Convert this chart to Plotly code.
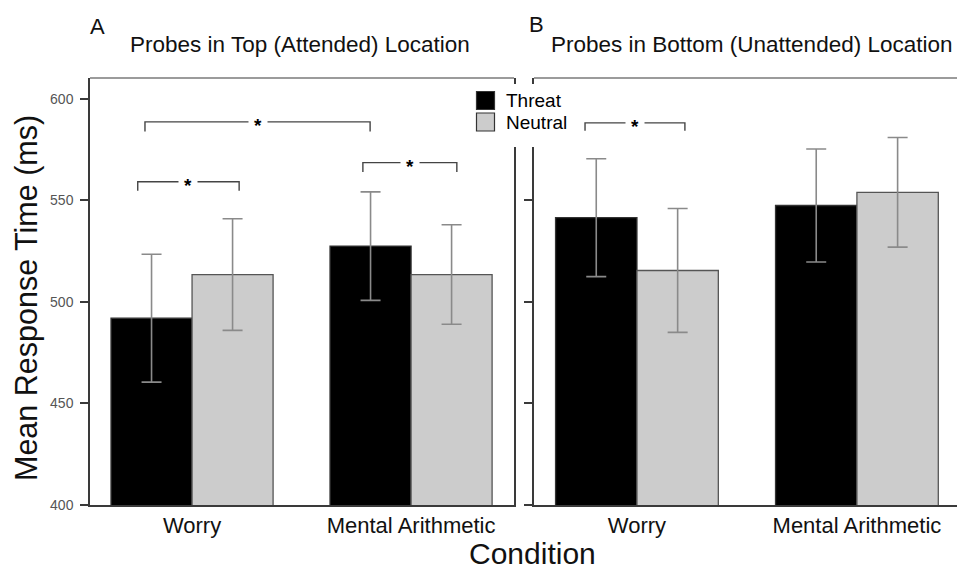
import plotly.graph_objects as go

# ---- data ----
categories = ["Worry", "Mental Arithmetic"]
cat_pos = [0, 1]
a_threat = [492.0, 527.5]
a_threat_err = [31.5, 26.7]
a_neutral = [513.5, 513.5]
a_neutral_err = [27.5, 24.5]
b_threat = [541.5, 547.5]
b_threat_err = [29.0, 27.8]
b_neutral = [515.5, 554.0]
b_neutral_err = [30.5, 27.0]
y_ticks = [400, 450, 500, 550, 600]
series_names = ["Threat", "Neutral"]

# significance brackets: (panel, x_left, x_right, y_line, y_drop)
brackets = [
    ("A", -0.215, 0.813, 588.7, 584.0),
    ("A", -0.248, 0.215, 559.2, 554.8),
    ("A", 0.780, 1.209, 568.6, 564.0),
    ("B", -0.236, 0.218, 588.2, 584.3),
]

# target picture size (layout positions are given in these pixels)
W, H = 957, 569
# the captured page area is 8px taller than the window; size the figure to it
FIG_H = H + 8


def px(x):
    return x / W


def py(y):
    return 1 - y / H


FONT = "Liberation Sans, Arial, sans-serif"
THREAT_COL = "#000000"
NEUTRAL_COL = "#cccccc"
ERR_COL = "#8a8a8a"
AX_COL = "#3a3a3a"

fig = go.Figure()


def add_pair(xa, ya, thr, thr_e, neu, neu_e):
    fig.add_trace(go.Bar(
        x=cat_pos, y=thr, name=series_names[0], xaxis=xa, yaxis=ya, showlegend=False,
        marker=dict(color=THREAT_COL, line=dict(color="#333333", width=1.3)),
        error_y=dict(type="data", array=thr_e, color=ERR_COL, thickness=1.6, width=10),
    ))
    fig.add_trace(go.Bar(
        x=cat_pos, y=neu, name=series_names[1], xaxis=xa, yaxis=ya, showlegend=False,
        marker=dict(color=NEUTRAL_COL, line=dict(color="#555555", width=1.3)),
        error_y=dict(type="data", array=neu_e, color=ERR_COL, thickness=1.6, width=10),
    ))


add_pair("x", "y", a_threat, a_threat_err, a_neutral, a_neutral_err)
add_pair("x2", "y2", b_threat, b_threat_err, b_neutral, b_neutral_err)

yrange = [400, 610.3]

xcommon = dict(
    tickvals=cat_pos, ticktext=categories, showgrid=False, zeroline=False,
    showline=True, linecolor=AX_COL, linewidth=1.5, ticks="",
    tickfont=dict(family=FONT, size=22, color="#111111"),
)
ycommon = dict(
    range=yrange, tickvals=y_ticks, showgrid=False, zeroline=False,
    showline=True, linecolor=AX_COL, linewidth=1.5, ticks="outside",
    ticklen=8, tickwidth=1.5, tickcolor=AX_COL, ticklabelstandoff=4,
    tickfont=dict(family=FONT, size=14, color="#555555"),
)

fig.update_layout(
    width=W, height=FIG_H,
    margin=dict(l=0, r=0, t=0, b=0),
    paper_bgcolor="white", plot_bgcolor="white",
    barmode="group", bargap=0.26, bargroupgap=0,
    xaxis=dict(domain=[px(90), px(514)], range=[-0.466, 1.47], anchor="y", **xcommon),
    yaxis=dict(domain=[py(505), py(78)], anchor="x", mirror=True, **ycommon),
    xaxis2=dict(domain=[px(534), 1.0], range=[-0.468, 1.455], anchor="y2", **xcommon),
    yaxis2=dict(domain=[py(505), py(78)], anchor="x2", showticklabels=False, **ycommon),
    showlegend=False,
    font=dict(family=FONT),
)

shapes = []
# top borders
for xr, yr in (("x domain", "y domain"), ("x2 domain", "y2 domain")):
    shapes.append(dict(type="line", xref=xr, yref=yr, x0=0, x1=1, y0=1, y1=1,
                       line=dict(color="#7a7a7a", width=1.5), layer="above"))

annotations = []
for panel, xl, xr_, yl, yd in brackets:
    xref, yref = ("x", "y") if panel == "A" else ("x2", "y2")
    shapes.append(dict(
        type="path", xref=xref, yref=yref,
        path=f"M {xl},{yd} L {xl},{yl} L {xr_},{yl} L {xr_},{yd}",
        line=dict(color="#444444", width=1.4), layer="above",
    ))
    annotations.append(dict(
        x=(xl + xr_) / 2, y=yl, xref=xref, yref=yref, text="<b>*</b>", showarrow=False,
        font=dict(family=FONT, size=19, color="#000000"), bgcolor="white",
        borderpad=5, yanchor="middle", xanchor="center", yshift=-4,
    ))

# legend (white box that interrupts the frame lines, swatches and labels)
shapes.append(dict(type="rect", xref="paper", yref="paper",
                   x0=px(471), x1=px(578), y0=py(147), y1=py(84),
                   fillcolor="white", line=dict(width=0), layer="above"))
legend_cols = [THREAT_COL, NEUTRAL_COL]
legend_rows = [(91.5, 109.5), (113, 131)]
for name, col, (t, b) in zip(series_names, legend_cols, legend_rows):
    shapes.append(dict(type="rect", xref="paper", yref="paper",
                       x0=px(476.5), x1=px(494.5), y0=py(b), y1=py(t),
                       fillcolor=col, line=dict(color="#333333", width=1.2), layer="above"))
    annotations.append(dict(
        x=px(504), y=py((t + b) / 2), xref="paper", yref="paper", text=name,
        showarrow=False, xanchor="left", yanchor="middle",
        font=dict(family=FONT, size=19, color="#000000"),
    ))

# panel letters and titles
annotations += [
    dict(x=px(88), y=py(26), xref="paper", yref="paper", text="A", showarrow=False,
         xanchor="left", yanchor="middle", font=dict(family=FONT, size=22, color="#111")),
    dict(x=px(300), y=py(45), xref="paper", yref="paper",
         text="Probes in Top (Attended) Location", showarrow=False,
         xanchor="center", yanchor="middle", font=dict(family=FONT, size=22.5, color="#111")),
    dict(x=px(527), y=py(24), xref="paper", yref="paper", text="B", showarrow=False,
         xanchor="left", yanchor="middle", font=dict(family=FONT, size=22, color="#111")),
    dict(x=px(751), y=py(45), xref="paper", yref="paper",
         text="Probes in Bottom (Unattended) Location", showarrow=False,
         xanchor="center", yanchor="middle", font=dict(family=FONT, size=22.5, color="#111")),
    dict(x=px(26), y=py(298), xref="paper", yref="paper",
         text="Mean Response Time (ms)", showarrow=False, textangle=-90,
         xanchor="center", yanchor="middle", font=dict(family=FONT, size=30.5, color="#111")),
    dict(x=px(532), y=py(553), xref="paper", yref="paper",
         text="Condition", showarrow=False,
         xanchor="center", yanchor="middle", font=dict(family=FONT, size=30, color="#111")),
]

fig.update_layout(shapes=shapes, annotations=annotations)
# remove the default 8px page margin so the figure starts at the window's corner
fig.write_html("out.html", config={"displayModeBar": False},
               post_script="document.body.style.margin='0';")
